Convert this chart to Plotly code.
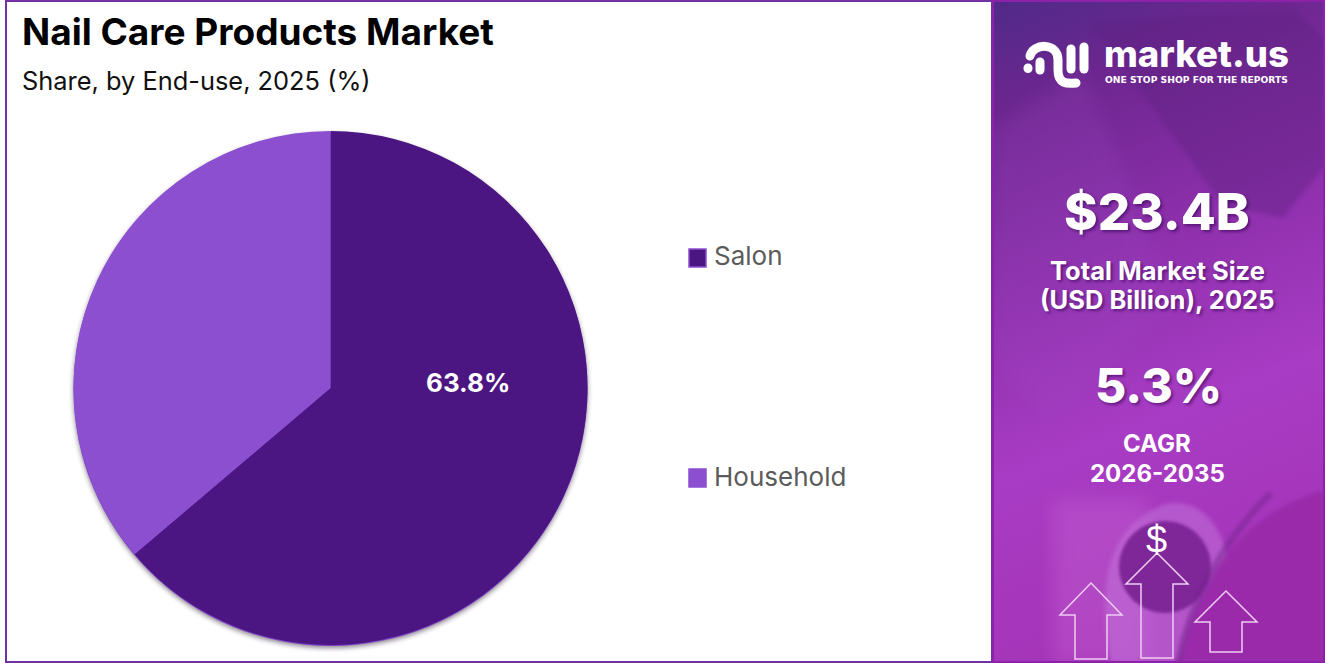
import base64
import plotly.graph_objects as go

W, H = 1325, 663

categories = ["Salon", "Household"]
shares = [63.8, 36.2]
colors = ["#4b1582", "#8b4fd0"]
slice_label = "63.8%"

title = "Nail Care Products Market"
subtitle = "Share, by End-use, 2025 (%)"
market_size = "$23.4B"
market_label = ["Total Market Size", "(USD Billion), 2025"]
cagr = "5.3%"
cagr_label = ["CAGR", "2026-2035"]

FONT = "Inter"
BORDER = "#7230a2"
SHADOW = "2px 2px 3px rgba(50,0,80,0.55)"


def svg_uri(svg):
    return "data:image/svg+xml;base64," + base64.b64encode(svg.encode()).decode()


# photo-like panel background, drawn as svg and placed as a layout image
panel_svg = """<svg xmlns="http://www.w3.org/2000/svg" width="332" height="663" viewBox="0 0 332 663" preserveAspectRatio="none">
<defs>
<linearGradient id="g" x1="0" y1="0" x2="0.2" y2="1">
<stop offset="0" stop-color="#4f2a88"/>
<stop offset="0.17" stop-color="#6d2690"/>
<stop offset="0.45" stop-color="#8f30ad"/>
<stop offset="0.7" stop-color="#a83cc4"/>
<stop offset="1" stop-color="#a534b8"/>
</linearGradient>
<filter id="b"><feGaussianBlur stdDeviation="9"/></filter>
<filter id="s"><feGaussianBlur stdDeviation="2"/></filter>
<filter id="l"><feGaussianBlur stdDeviation="1.5"/></filter>
</defs>
<rect width="332" height="663" fill="url(#g)"/>
<polygon points="100,25 300,8 332,40 332,165 290,218 230,205" fill="#5f2082" opacity="0.42" filter="url(#s)"/>
<polygon points="0,130 90,70 180,300 60,420 0,360" fill="#a050c8" opacity="0.18" filter="url(#b)"/>
<rect x="60" y="500" width="95" height="163" fill="#d070d8" opacity="0.3" filter="url(#b)"/>
<path d="M118,663 C105,590 110,530 170,505 C205,495 232,525 238,575 L215,663 Z" fill="#c477dd" opacity="0.5" filter="url(#s)"/>
<circle cx="172" cy="567" r="46" fill="#7f2899" filter="url(#l)"/>
<path d="M185,663 C200,610 225,520 332,490 L332,663 Z" fill="#9a2aaa" filter="url(#s)"/>
<path d="M185,663 C195,610 225,545 278,493" fill="none" stroke="#6f2288" stroke-width="7" opacity="0.42" filter="url(#l)"/>
<g fill="none" stroke="white" stroke-width="9" stroke-linecap="round" stroke-linejoin="round">
__LOGO__
</g>
</svg>"""

# logo mark in panel pixels
logo_paths = [
    "M35,68 L35,68.5",
    "M37,56 C40,43 65,42 65,60 L65,70 C65,84 74,84 83,83",
    "M47,62 L47,70",
    "M78,49 L78,69",
    "M91,47 L91,69",
]
panel_svg = panel_svg.replace("__LOGO__", "\n".join(f'<path d="{d}"/>' for d in logo_paths))

# soft shadow and rim under the pie
shadow_svg = """<svg xmlns="http://www.w3.org/2000/svg" width="540" height="540" viewBox="0 0 540 540">
<defs><filter id="f"><feGaussianBlur stdDeviation="2.5"/></filter></defs>
<circle cx="270.5" cy="273" r="257" fill="#2a1a30" opacity="0.55" filter="url(#f)"/>
<circle cx="270.5" cy="271" r="257" fill="#7d3fc8"/>
</svg>"""

fig = go.Figure()

fig.add_trace(go.Pie(
    labels=categories,
    values=shares,
    textinfo="none",
    marker=dict(colors=colors, line=dict(width=0)),
    sort=False,
    direction="clockwise",
    rotation=0,
    showlegend=False,
    domain=dict(x=[73.5 / W, 587.5 / W], y=[1 - 645 / H, 1 - 131 / H]),
))

shapes = [
    dict(type="rect", xref="paper", yref="paper", x0=6 / W, x1=992 / W, y0=1 / H, y1=1 - 1 / H,
         line=dict(color=BORDER, width=2), fillcolor="rgba(0,0,0,0)", layer="below"),
    dict(type="rect", xref="paper", yref="paper", x0=993 / W, x1=1324 / W, y0=1 / H, y1=1 - 1 / H,
         line=dict(color="#8c22aa", width=2), fillcolor="rgba(0,0,0,0)"),
]


def px_path(points):
    # points are pixels from top left, the layout uses paper fractions
    return "M" + " L".join(f"{x / W:.5f},{1 - y / H:.5f}" for x, y in points) + " Z"


# outline arrows at the bottom of the panel
for tip_x, tip_y, half, shoulder, stem, bottom in [
    (1091, 583, 31, 32, 16, 659),
    (1157, 553, 31, 31, 16, 658),
    (1226, 591, 31, 31, 16, 652),
]:
    pts = [(tip_x, tip_y), (tip_x + half, tip_y + shoulder), (tip_x + stem, tip_y + shoulder),
           (tip_x + stem, bottom), (tip_x - stem, bottom), (tip_x - stem, tip_y + shoulder),
           (tip_x - half, tip_y + shoulder)]
    shapes.append(dict(type="path", xref="paper", yref="paper", path=px_path(pts),
                       line=dict(color="#eecdf2", width=1.5), fillcolor="rgba(0,0,0,0)"))

# legend swatches
for y_mid, color in zip([258, 478], colors):
    shapes.append(dict(type="rect", xref="paper", yref="paper",
                       x0=689 / W, x1=706 / W, y0=1 - (y_mid + 9) / H, y1=1 - (y_mid - 9) / H,
                       fillcolor=color, line=dict(color="#8b4fd0", width=1.5)))

layout_images = [
    dict(source=svg_uri(panel_svg), xref="paper", yref="paper", x=993 / W, y=1,
         sizex=332 / W, sizey=1, sizing="stretch", layer="below",
         xanchor="left", yanchor="top"),
    dict(source=svg_uri(shadow_svg), xref="paper", yref="paper", x=60 / W, y=1 - 118 / H,
         sizex=540 / W, sizey=540 / H, sizing="stretch", layer="below",
         xanchor="left", yanchor="top"),
]


def note(x, y, text, size, color="white", bold=False, anchor="center", family=FONT, shadow="none", weight=None):
    return dict(xref="paper", yref="paper", x=x / W, y=1 - y / H, text=text, showarrow=False,
                xanchor=anchor, yanchor="middle", align="center",
                font=dict(family=family, size=size, color=color, shadow=shadow,
                          weight=weight or (700 if bold else 400)))


annotations = [
    note(20, 31, title, 37, "#000000", True, "left"),
    note(20, 80, subtitle, 25.4, "#111111", False, "left"),
    note(712, 256, categories[0], 26, "#5b5b5b", False, "left"),
    note(712, 476, categories[1], 26, "#5b5b5b", False, "left"),
    note(468, 383, slice_label, 26, bold=True),
    note(1157, 211, market_size, 51, shadow=SHADOW, weight=800),
    note(1157, 270, market_label[0], 25.5, bold=True, shadow=SHADOW),
    note(1157, 300, market_label[1], 25.5, bold=True, shadow=SHADOW),
    note(1158, 385, cagr, 48, shadow=SHADOW, weight=800),
    note(1157, 443, cagr_label[0], 24, bold=True),
    note(1157, 473, cagr_label[1], 24, bold=True),
    note(1156, 540, "$", 38, family="Liberation Sans"),
    note(1102, 54, "market.us", 36.5, anchor="left", weight=800),
    note(1103, 79, "ONE STOP SHOP FOR THE REPORTS", 9.2, bold=True, anchor="left", family="DejaVu Sans"),
]

fig.update_layout(
    width=W,
    height=H,
    margin=dict(l=0, r=0, t=0, b=0),
    paper_bgcolor="white",
    shapes=shapes,
    images=layout_images,
    annotations=annotations,
)

fig.write_html("out.html", config=dict(displayModeBar=False),
               post_script="document.body.style.margin='0';")
